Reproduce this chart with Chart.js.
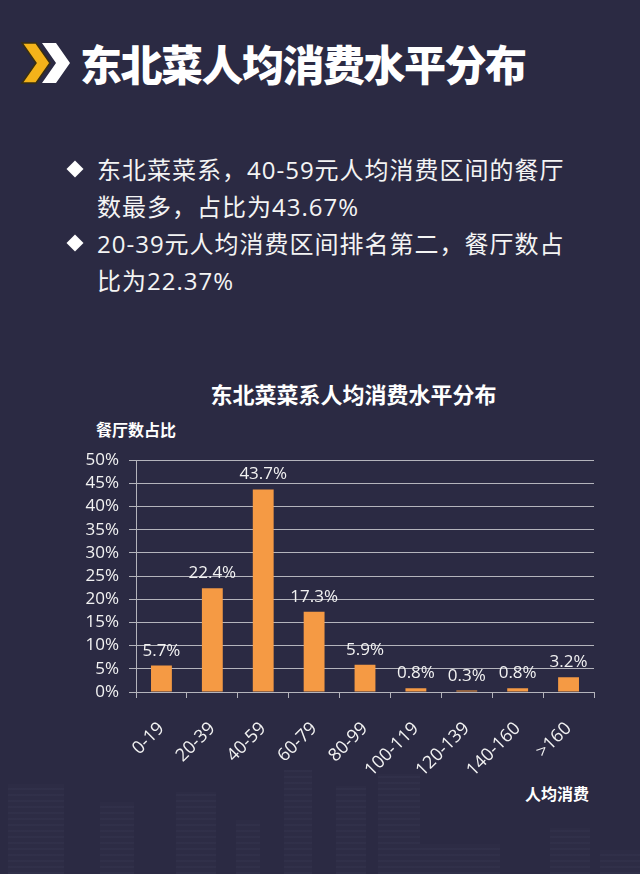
<!DOCTYPE html>
<html>
<head>
<meta charset="utf-8">
<script src="https://cdn.jsdelivr.net/npm/chart.js@4.4.1/dist/chart.umd.min.js"></script>
<style>
  html, body { margin: 0; padding: 0; }
  body {
    width: 640px; height: 874px; position: relative; overflow: hidden;
    background: #2b2a43; color: #fff;
    font-family: "Open Sans", "Noto Sans CJK SC", sans-serif;
  }
  .bld { position: absolute; bottom: 0; background: rgba(120,130,170,0.03);
    background-image: repeating-linear-gradient(0deg, rgba(160,170,210,0.03) 0 2px, transparent 2px 6px); }
  #icon { position: absolute; left: 20px; top: 42px; }
  #title {
    position: absolute; left: 80px; top: 38px; white-space: nowrap;
    font: 900 42px "Noto Sans CJK SC", sans-serif; letter-spacing: -1.5px; line-height: 50px;
  }
  #notes {
    position: absolute; left: 97px; top: 151px; white-space: nowrap;
    font-size: 24px; line-height: 37px; letter-spacing: 1px; color: #f4f4f4;
  }
  #notes p { margin: 0; position: relative; }
  #notes p::before {
    content: ""; position: absolute; left: -28px; top: 12px; width: 12px; height: 12px;
    background: #fff; transform: rotate(45deg);
  }
  .lbl { position: absolute; white-space: nowrap; font-family: "Noto Sans CJK SC", sans-serif; font-weight: 700; }
  #ctitle { left: 0; width: 707px; text-align: center; top: 378px; font-size: 22px; line-height: 30px; }
  #ytitle { left: 96px; top: 418px; font-size: 16px; line-height: 22px; }
  #xtitle { left: 525px; top: 782px; font-size: 16px; line-height: 22px; }
  #wrap { position: absolute; left: 0; top: 440px; width: 640px; height: 360px; }
</style>
</head>
<body>
<div class="bld" style="left:8px;width:56px;height:90px"></div>
<div class="bld" style="left:100px;width:34px;height:72px"></div>
<div class="bld" style="left:176px;width:40px;height:82px"></div>
<div class="bld" style="left:236px;width:24px;height:54px"></div>
<div class="bld" style="left:284px;width:28px;height:104px"></div>
<div class="bld" style="left:336px;width:30px;height:88px"></div>
<div class="bld" style="left:378px;width:42px;height:100px"></div>
<div class="bld" style="left:420px;width:80px;height:30px"></div>
<div class="bld" style="left:550px;width:40px;height:46px"></div>
<div class="bld" style="left:600px;width:40px;height:24px"></div>

<svg id="icon" width="52" height="44" viewBox="0 0 52 44">
  <polygon points="2,1 16,1 30,21 16,41 2,41 16,21" fill="#f4b31a" stroke="#3a2f10" stroke-width="1.5"/>
  <polygon points="22,1 36,1 50,21 36,41 22,41 36,21" fill="#ffffff"/>
</svg>
<div id="title">东北菜人均消费水平分布</div>

<div id="notes">
  <p>东北菜菜系，40-59元人均消费区间的餐厅<br>数最多，占比为43.67%</p>
  <p>20-39元人均消费区间排名第二，餐厅数占<br>比为22.37%</p>
</div>

<div class="lbl" id="ctitle">东北菜菜系人均消费水平分布</div>
<div class="lbl" id="ytitle">餐厅数占比</div>
<div class="lbl" id="xtitle">人均消费</div>

<div id="wrap"><canvas id="chart"></canvas></div>

<script>
const categories = ["0-19", "20-39", "40-59", "60-79", "80-99", "100-119", "120-139", "140-160", ">160"];
const shares = [5.7, 22.4, 43.7, 17.3, 5.9, 0.8, 0.3, 0.8, 3.2];
const yTickValues = [0, 5, 10, 15, 20, 25, 30, 35, 40, 45, 50];

const textColor = "#f2f2f2";
const gridColor = "#b4b4bc";

// value labels above each bar
const barLabels = {
  id: "barLabels",
  afterDatasetsDraw(chart) {
    const ctx = chart.ctx;
    const meta = chart.getDatasetMeta(0);
    ctx.save();
    ctx.font = '17px "Open Sans", sans-serif';
    ctx.fillStyle = textColor;
    ctx.textAlign = "center";
    ctx.textBaseline = "alphabetic";
    meta.data.forEach((bar, i) => {
      ctx.fillText(shares[i].toFixed(1) + "%", bar.x, bar.y - 10);
    });
    ctx.restore();
  }
};

new Chart(document.getElementById("chart"), {
  type: "bar",
  data: {
    labels: categories,
    datasets: [{
      data: shares,
      backgroundColor: "#f59a44",
      categoryPercentage: 0.41,
      barPercentage: 1
    }]
  },
  options: {
    responsive: true,
    maintainAspectRatio: false,
    animation: false,
    layout: { padding: { top: 20, right: 46, left: 0, bottom: 0 } },
    plugins: { legend: { display: false }, tooltip: { enabled: false } },
    scales: {
      x: {
        afterFit: s => { s.height = 108; },
        grid: { drawOnChartArea: false, color: gridColor, tickLength: 6 },
        border: { color: gridColor },
        ticks: {
          color: textColor, font: { size: 18, family: '"Open Sans", sans-serif' },
          minRotation: 45, maxRotation: 45, padding: 20, autoSkip: false
        }
      },
      y: {
        min: 0, max: 50,
        afterFit: s => { s.width = 136; },
        afterBuildTicks: s => { s.ticks = yTickValues.map(v => ({ value: v })); },
        grid: { color: gridColor, tickLength: 7 },
        border: { color: gridColor },
        ticks: {
          color: textColor, font: { size: 17, family: '"Open Sans", sans-serif' },
          padding: 10, autoSkip: false, callback: v => v + "%"
        }
      }
    }
  },
  plugins: [barLabels]
});
</script>
</body>
</html>
